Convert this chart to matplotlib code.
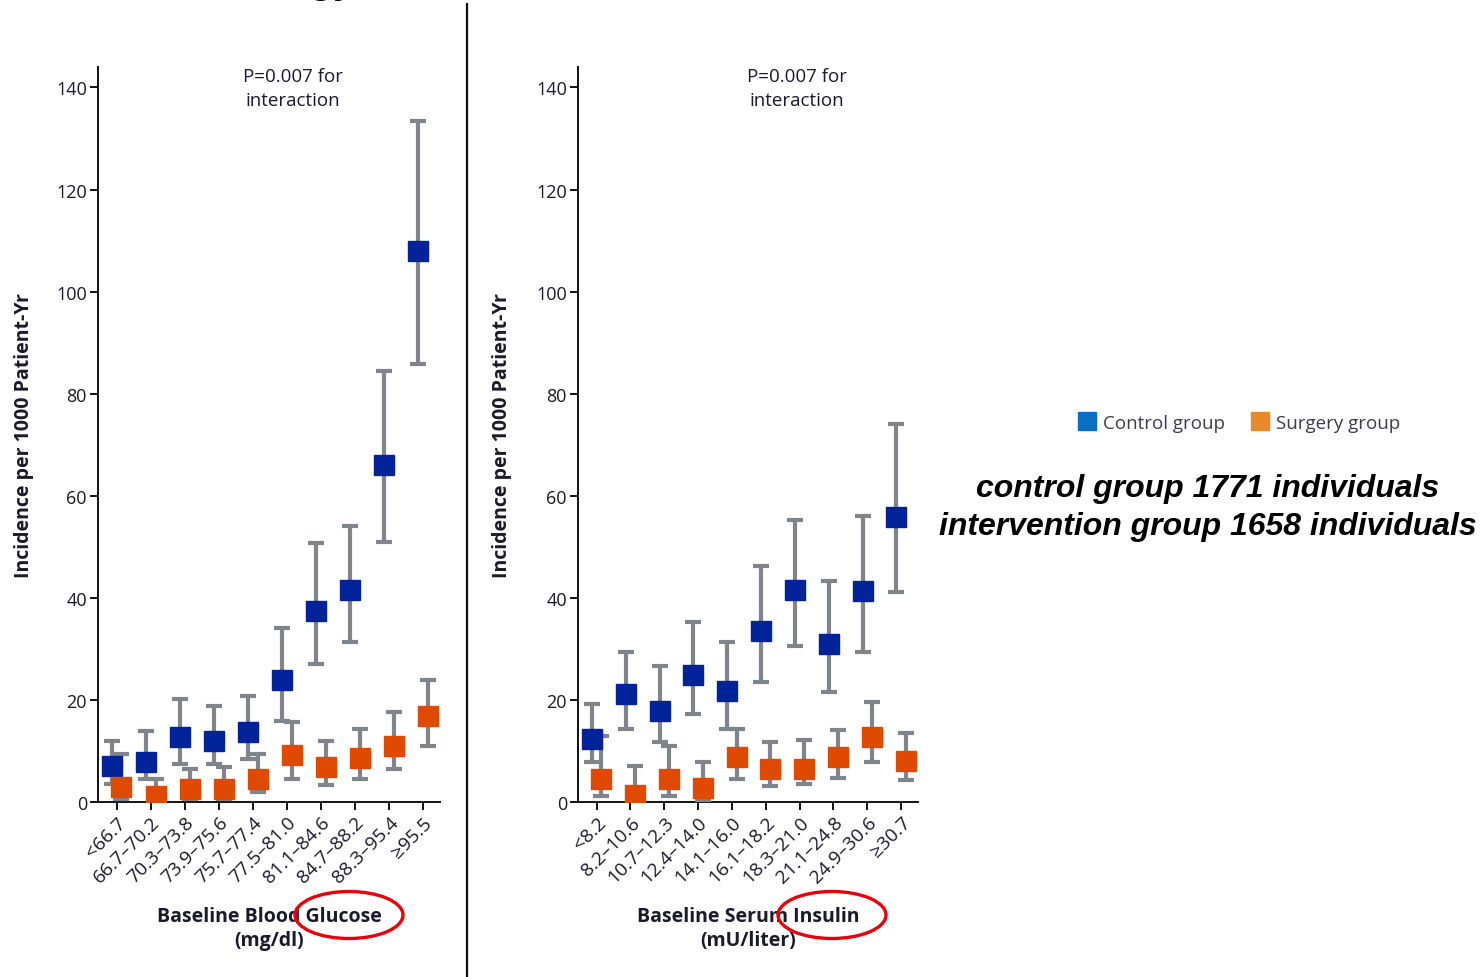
import matplotlib
matplotlib.use("Agg")
import matplotlib.pyplot as plt
from matplotlib.lines import Line2D
from matplotlib.patches import Ellipse
import numpy as np

W, H = 1484, 978

# Baseline blood glucose categories (mg/dl)
glucose_labels = ["<66.7", "66.7\u201370.2", "70.3\u201373.8", "73.9\u201375.6", "75.7\u201377.4",
                  "77.5\u201381.0", "81.1\u201384.6", "84.7\u201388.2", "88.3\u201395.4", "\u226595.5"]
glu_control = [7.0, 7.8, 12.7, 12.0, 13.7, 23.9, 37.5, 41.6, 66.1, 107.9]
glu_control_lo = [3.5, 4.5, 7.5, 7.4, 8.4, 15.9, 27.1, 31.3, 50.9, 85.9]
glu_control_hi = [12.0, 13.9, 20.1, 18.9, 20.8, 34.1, 50.7, 54.1, 84.5, 133.4]
glu_surgery = [2.9, 1.2, 2.5, 2.5, 4.6, 9.2, 6.8, 8.6, 11.0, 16.8]
glu_surgery_lo = [0.6, 0.1, 0.6, 0.6, 1.9, 4.6, 3.3, 4.6, 6.5, 11.0]
glu_surgery_hi = [9.4, 4.6, 6.5, 6.8, 9.4, 15.6, 12.0, 14.3, 17.7, 24.0]

# Baseline serum insulin categories (mU/liter)
insulin_labels = ["<8.2", "8.2\u201310.6", "10.7\u201312.3", "12.4\u201314.0", "14.1\u201316.0",
                  "16.1\u201318.2", "18.3\u201321.0", "21.1\u201324.8", "24.9\u201330.6", "\u226530.7"]
ins_control = [12.4, 21.2, 17.9, 24.9, 21.8, 33.6, 41.6, 31.0, 41.3, 55.8]
ins_control_lo = [7.8, 14.4, 11.7, 17.3, 14.4, 23.5, 30.5, 21.5, 29.4, 41.1]
ins_control_hi = [19.2, 29.4, 26.6, 35.2, 31.3, 46.2, 55.2, 43.3, 56.1, 74.0]
ins_surgery = [4.6, 1.4, 4.6, 2.7, 8.8, 6.5, 6.5, 8.8, 12.7, 8.1]
ins_surgery_lo = [1.1, 0.1, 1.1, 0.3, 4.6, 3.1, 3.5, 4.8, 7.9, 4.4]
ins_surgery_hi = [13.0, 7.0, 11.0, 7.9, 14.4, 11.8, 12.2, 14.2, 19.5, 13.5]

y_ticks = [0, 20, 40, 60, 80, 100, 120, 140]

NAVY = "#00239a"
RED_ORANGE = "#e04a00"
BAR_GRAY = "#80858b"
TXT = "#1a1a2a"

fig = plt.figure(figsize=(W / 100, H / 100), dpi=100)
fig.patch.set_facecolor("white")


def frac(x, y):
    return x / W, 1 - y / H


def panel(rect, labels, ctl, ctl_lo, ctl_hi, srg, srg_lo, srg_hi, xlabel, p_x, ylab_x):
    ax = fig.add_axes(rect)
    x = np.arange(len(labels))
    off = 0.14
    for vals, lo, hi, color, dx in [(ctl, ctl_lo, ctl_hi, NAVY, -off),
                                    (srg, srg_lo, srg_hi, RED_ORANGE, off)]:
        v = np.array(vals)
        err = [v - np.array(lo), np.array(hi) - v]
        ax.errorbar(x + dx, v, yerr=err, fmt="s", color=color, ms=14.5, mec=color,
                    ecolor=BAR_GRAY, elinewidth=3.0, capsize=5.5, capthick=3.0, zorder=3)
    ax.set_xlim(-0.55, 9.5)
    ax.set_ylim(0, 144)
    ax.set_yticks(y_ticks)
    ax.set_yticklabels([str(t) for t in y_ticks], fontsize=13, color=TXT, family="Open Sans")
    ax.set_xticks(x)
    ax.set_xticklabels(labels, rotation=45, ha="right", va="top", rotation_mode="anchor",
                       fontsize=13.8, color=TXT, family="Open Sans")
    for s in ["top", "right"]:
        ax.spines[s].set_visible(False)
    for s in ["left", "bottom"]:
        ax.spines[s].set_linewidth(1.4)
        ax.spines[s].set_color("#111111")
    ax.tick_params(axis="both", direction="out", length=6, width=1.4, color="#111111", pad=2)
    ax.set_ylabel("Incidence per 1000 Patient-Yr", fontsize=14, fontweight="bold",
                  color=TXT, family="Open Sans")
    ax.yaxis.set_label_coords(ylab_x, 0.5)
    ax.set_xlabel(xlabel, fontsize=14, fontweight="bold", color=TXT, family="Open Sans",
                  linespacing=1.3)
    ax.xaxis.set_label_coords(0.5, -0.141)
    ax.text(p_x, 1.0, "P=0.007 for\ninteraction", transform=ax.transAxes, ha="center",
            va="top", fontsize=13.5, color=TXT, family="Open Sans", linespacing=1.4)
    return ax


l, b = frac(98, 803)
panel([l, b, 342 / W, 735 / H], glucose_labels, glu_control, glu_control_lo, glu_control_hi,
      glu_surgery, glu_surgery_lo, glu_surgery_hi, "Baseline Blood Glucose\n(mg/dl)", 0.57,
      -0.188)
l, b = frac(578, 803)
panel([l, b, 340 / W, 735 / H], insulin_labels, ins_control, ins_control_lo, ins_control_hi,
      ins_surgery, ins_surgery_lo, ins_surgery_hi, "Baseline Serum Insulin\n(mU/liter)", 0.645,
      -0.193)

# divider between the two panels
fig.add_artist(Line2D([467 / W, 467 / W], [0, 1 - 5 / H], color="#111111", lw=1.6,
                      transform=fig.transFigure))

# title running off the top edge
fig.text(*frac(278, -7), "Strategy", ha="center", va="baseline", fontsize=28,
         fontweight="bold", color="black", family="Liberation Sans")

# highlight rings around the measured quantities
for cx in (349, 832):
    fig.add_artist(Ellipse(frac(cx, 916), width=108 / W, height=47 / H, fill=False,
                           edgecolor="#e8000b", lw=2.4, transform=fig.transFigure))

handles = [Line2D([], [], marker="s", ls="", color="#0a6fc2", ms=13),
           Line2D([], [], marker="s", ls="", color="#e8892a", ms=13)]
fig.legend(handles, ["Control group", "Surgery group"], loc="center",
           bbox_to_anchor=frac(1240, 424), ncol=2, frameon=False, handlelength=0.8,
           handletextpad=0.45, columnspacing=1.5,
           prop={"family": "Open Sans", "size": 13.5}, labelcolor="#3c3c4e")

fig.text(*frac(1208, 489), "control group 1771 individuals", ha="center", va="center",
         fontsize=23, fontweight="bold", fontstyle="italic", family="Liberation Sans")
fig.text(*frac(1208, 527), "intervention group 1658 individuals", ha="center", va="center",
         fontsize=23, fontweight="bold", fontstyle="italic", family="Liberation Sans")

fig.savefig("out.png", dpi=100)
